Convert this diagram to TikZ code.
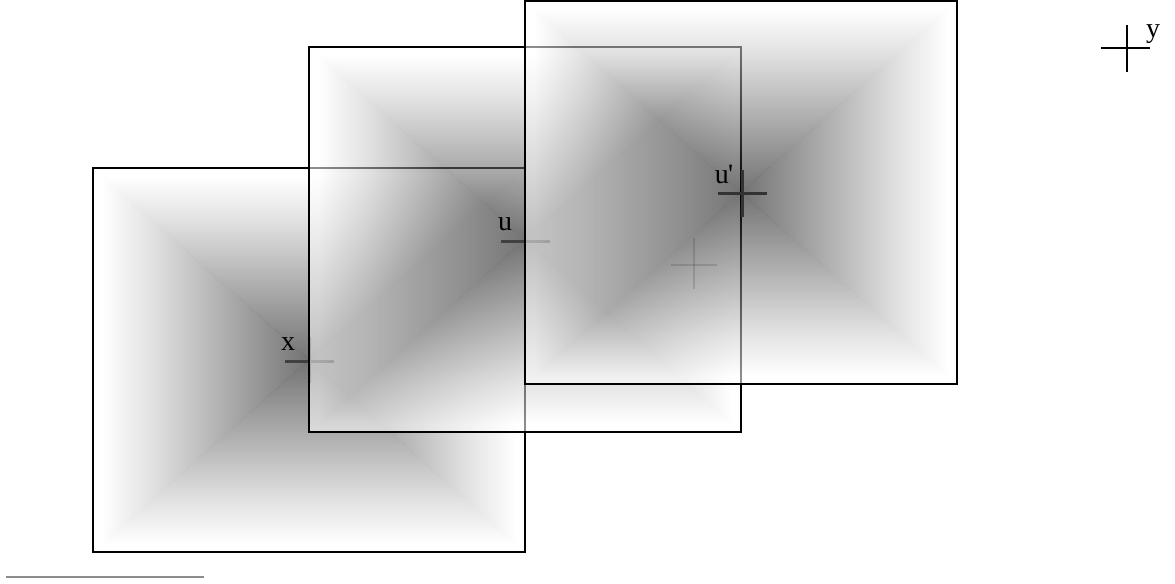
\documentclass[tikz,border=0pt]{standalone}
\usepackage{fontspec}
\setmainfont{Liberation Serif}
\pgfdeclareverticalshading{pyrsh}{100bp}{color(0bp)=(black); color(25bp)=(black); color(62bp)=(black!20); color(73bp)=(white); color(100bp)=(white)}
\tikzset{
  pyrfill/.style={shading=pyrsh, opacity=0.55},
  frame/.style={draw=black, line width=0.9pt},
  crossline/.style={draw=black!75, line width=1.5pt},
  faintcross/.style={draw=black, opacity=0.13, line width=0.8pt},
  ycross/.style={draw=black, line width=0.8pt},
  lbl/.style={inner sep=0pt, font=\fontsize{14}{16}\selectfont},
  scalebar/.style={draw=black!45, line width=1pt}
}
\newcommand\pyrsquare[5]{%
  \coordinate (#5c) at ({(#1+#3)/2},{(#2+#4)/2});
  \shade[pyrfill, shading angle=0]   (#1,#2) -- (#3,#2) -- (#5c) -- cycle;
  \shade[pyrfill, shading angle=90]  (#1,#2) -- (#1,#4) -- (#5c) -- cycle;
  \shade[pyrfill, shading angle=180] (#1,#4) -- (#3,#4) -- (#5c) -- cycle;
  \shade[pyrfill, shading angle=270] (#3,#2) -- (#3,#4) -- (#5c) -- cycle;
  \draw[frame] (#1,#2) rectangle (#3,#4);
}
\begin{document}
\begin{tikzpicture}[x=0.5pt, y=-0.5pt]
\useasboundingbox (0,0) rectangle (1175,584);
% square 1
\pyrsquare{93}{168}{525}{552}{sa}
\coordinate (xl) at (285,361); \coordinate (xr) at (334,361);
\coordinate (xt) at (310,337); \coordinate (xb) at (310,383);
\draw[crossline] (xl) -- (xr);
\draw[crossline, line width=1pt] (xt) -- (xb);
\node[lbl] (xlab) at (288,344) {x};
% square 2
\pyrsquare{309}{47}{741}{432}{sb}
\coordinate (ul) at (501,241); \coordinate (ur) at (550,241);
\coordinate (ut) at (525,217); \coordinate (ub) at (525,263);
\draw[crossline] (ul) -- (ur);
\draw[crossline, line width=1pt] (ut) -- (ub);
\node[lbl] (ulab) at (505,224) {u};
% square 3
\pyrsquare{525}{1}{957}{384}{sc}
\coordinate (vl) at (718,193); \coordinate (vr) at (767,193);
\coordinate (vt) at (742,170); \coordinate (vb) at (742,217);
\draw[crossline, draw=black!80] (vl) -- (vr);
\draw[crossline, draw=black!80] (vt) -- (vb);
\node[lbl] (vlab) at (724,174) {u\kern-0.5pt\textquotesingle};
% faint cross
\coordinate (fl) at (671,265); \coordinate (fr) at (717,265);
\coordinate (ft) at (694,238); \coordinate (fb) at (694,289);
\draw[faintcross] (fl) -- (fr);
\draw[faintcross] (ft) -- (fb);
% y cross
\coordinate (yl) at (1101,48); \coordinate (yr) at (1150,48);
\coordinate (yt) at (1127,25); \coordinate (yb) at (1127,72);
\draw[ycross] (yl) -- (yr);
\draw[ycross] (yt) -- (yb);
\node[lbl] (ylab) at (1153,34) {y};
% bar
\coordinate (ba) at (6,577); \coordinate (bb) at (204,577);
\draw[scalebar] (ba) -- (bb);
\end{tikzpicture}
\end{document}
